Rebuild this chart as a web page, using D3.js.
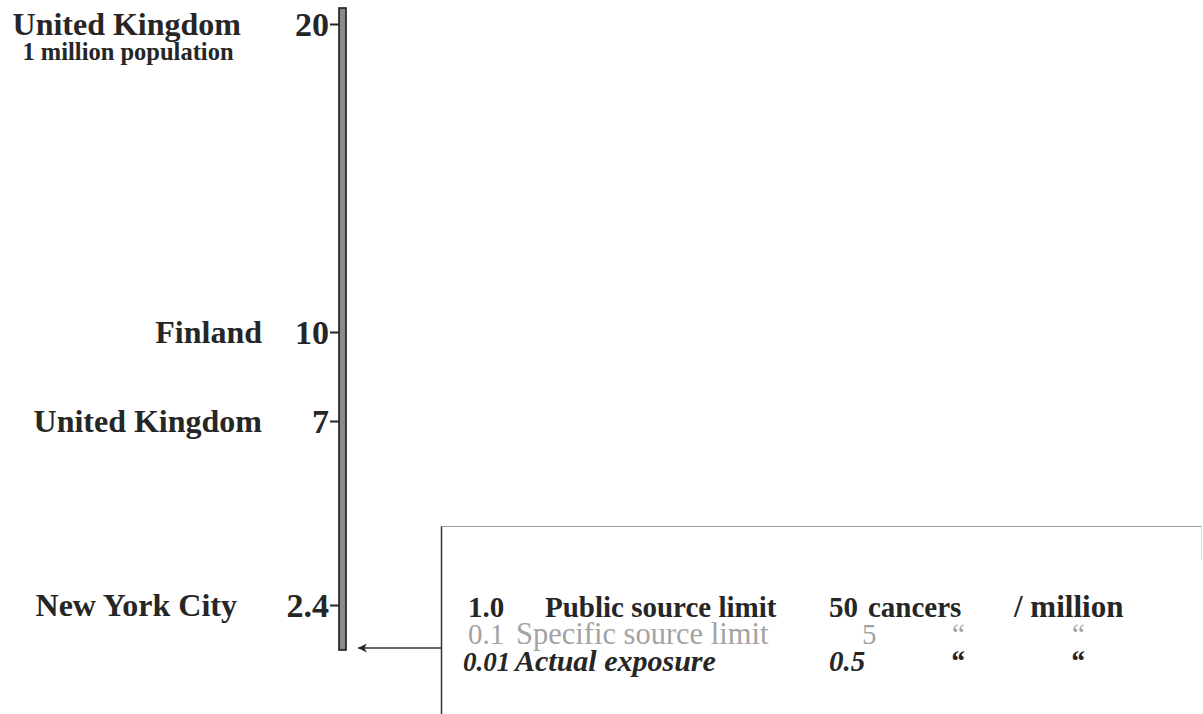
<!DOCTYPE html>
<html>
<head>
<meta charset="utf-8">
<script src="https://cdn.jsdelivr.net/npm/d3@7"></script>
<style>
  html, body { margin: 0; padding: 0; background: #fff; }
  svg { display: block; }
  text { font-family: "Liberation Serif", "Tinos", "Times New Roman", "DejaVu Serif", serif; }
</style>
</head>
<body>
<svg id="chart" width="1203" height="714"></svg>
<script>
// ---- data ----
const tickValues = [2.4, 7, 10, 20];
const tickLabels = ["2.4", "7", "10", "20"];
const places = ["New York City", "United Kingdom", "Finland", "United Kingdom"];
const placeValues = [2.4, 7, 10, 20];
const placeNotes = ["", "", "", "1 million population"];
const actualExposure = 0.01;

const riskLevels = ["1.0", "0.1", "0.01"];
const riskNames = ["Public source limit", "Specific source limit", "Actual exposure"];
const cancerCounts = ["50", "5", "0.5"];
const unitCol1 = ["cancers", "\u201C", "\u201C"];
const unitCol2 = ["/ million", "\u201C", "\u201C"];

// ---- layout ----
const svg = d3.select("#chart");
const axisX = 339, barW = 7;
const y = d3.scaleLinear()
  .domain([actualExposure, 2.4, 7, 10, 20, 20.5])
  .range([648, 605, 421, 332, 24, 8]);

const ink = "#262626";

// bar (the scale column)
svg.append("rect")
  .attr("x", axisX).attr("y", y(20.5))
  .attr("width", barW).attr("height", y(actualExposure) - y(20.5) + 2)
  .attr("fill", "#8a8a8a").attr("stroke", "#1a1a1a").attr("stroke-width", 1.6);

// axis ticks + labels
const axis = d3.axisLeft(y).tickValues(tickValues)
  .tickFormat((d, i) => tickLabels[i]).tickSize(9).tickPadding(1);
const gAxis = svg.append("g").attr("transform", `translate(${axisX},0)`).call(axis);
gAxis.select(".domain").remove();
gAxis.selectAll(".tick line").attr("stroke", ink).attr("stroke-width", 2);
gAxis.selectAll(".tick text")
  .attr("fill", ink).attr("font-size", 34).attr("font-weight", "bold")
  .attr("dy", "0.34em");

// place labels
const labelRightX = [237, 262, 262, 241];
svg.append("g").selectAll("text").data(places).join("text")
  .attr("x", (d, i) => labelRightX[i])
  .attr("y", (d, i) => y(placeValues[i]))
  .attr("dy", "0.34em")
  .attr("text-anchor", "end")
  .attr("font-size", 32).attr("font-weight", "bold").attr("fill", ink)
  .text(d => d);

svg.append("text")
  .attr("x", 128).attr("y", y(20) + 28)
  .attr("dy", "0.34em").attr("text-anchor", "middle")
  .attr("font-size", 24.5).attr("font-weight", "bold").attr("fill", ink)
  .text(placeNotes[3]);

// legend box
const box = {x: 441.5, y: 526.5, r: 1201.5, b: 716};
svg.append("line").attr("x1", box.x).attr("x2", box.r).attr("y1", box.y).attr("y2", box.y)
  .attr("stroke", "#9a9a9a").attr("stroke-width", 1.2);
svg.append("line").attr("x1", box.x).attr("x2", box.x).attr("y1", box.y).attr("y2", box.b)
  .attr("stroke", "#333").attr("stroke-width", 1.5);
svg.append("line").attr("x1", box.r).attr("x2", box.r).attr("y1", box.y).attr("y2", 560)
  .attr("stroke", "#ddd").attr("stroke-width", 1);

// arrow from box to bottom of bar
svg.append("defs").append("marker")
  .attr("id", "ah").attr("viewBox", "0 0 10 10").attr("refX", 10).attr("refY", 5)
  .attr("markerWidth", 14).attr("markerHeight", 9).attr("markerUnits", "userSpaceOnUse")
  .attr("orient", "auto")
  .append("path").attr("d", "M10,5 L0,0 L3,5 L0,10 Z").attr("fill", "#222");
svg.append("line")
  .attr("x1", box.x).attr("x2", axisX + barW + 12)
  .attr("y1", y(actualExposure)).attr("y2", y(actualExposure))
  .attr("stroke", "#333").attr("stroke-width", 1.3)
  .attr("marker-end", "url(#ah)");

// legend rows
const rowY = [617, 644, 671];
const rowStyle = [
  {fill: ink, weight: "bold", style: "normal"},
  {fill: "#a3a3a3", weight: "normal", style: "normal"},
  {fill: ink, weight: "bold", style: "italic"}
];
const cols = [
  {arr: riskLevels, x: [468, 468, 463], size: [29, 29, 27]},
  {arr: riskNames, x: [545, 516, 515], size: [29, 30.5, 30]},
  {arr: cancerCounts, x: [829, 862, 829], size: [29, 29, 29]},
  {arr: unitCol1, x: [868, 952, 950], size: [29, 29, 29]},
  {arr: unitCol2, x: [1014, 1072, 1070], size: [31, 29, 29]}
];
const gLeg = svg.append("g");
cols.forEach(c => {
  gLeg.selectAll(null).data(c.arr).join("text")
    .attr("x", (d, i) => c.x[i]).attr("y", (d, i) => rowY[i])
    .attr("fill", (d, i) => rowStyle[i].fill)
    .attr("font-weight", (d, i) => rowStyle[i].weight)
    .attr("font-style", (d, i) => rowStyle[i].style)
    .attr("font-size", (d, i) => c.size[i])
    .text(d => d);
});
</script>
</body>
</html>
